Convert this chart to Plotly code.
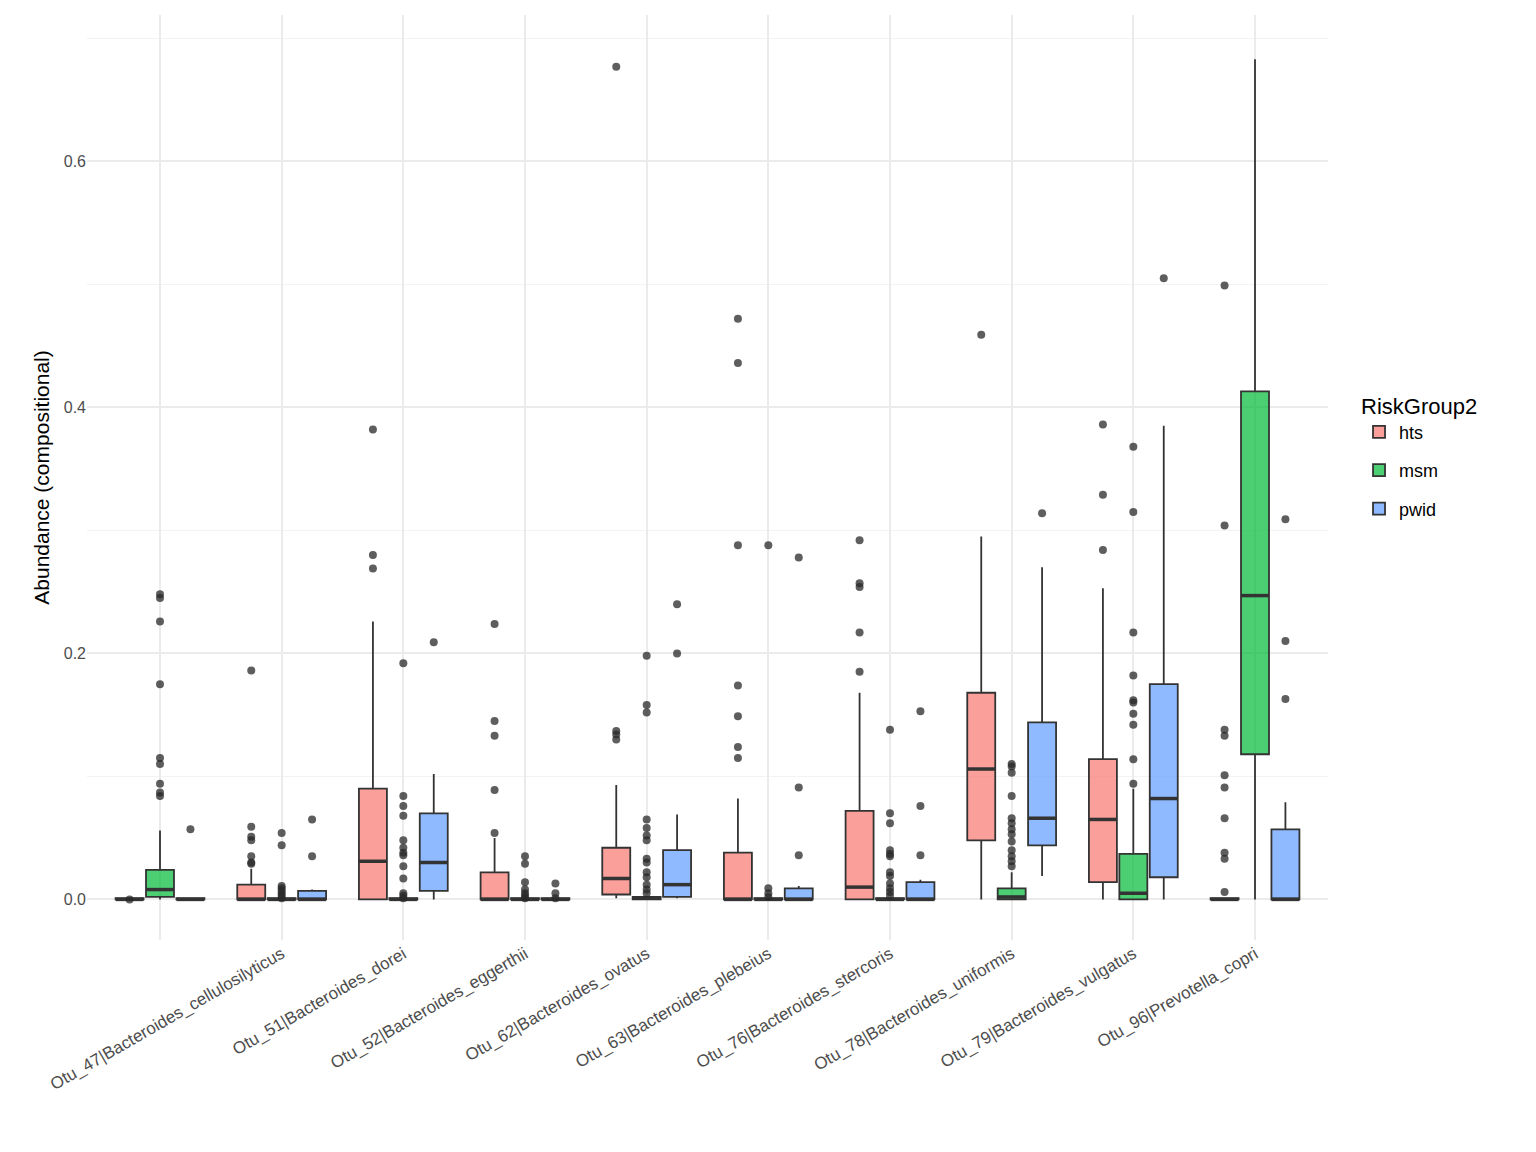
import plotly.graph_objects as go

categories = ["Otu_41|Prevotella_sp_AM42_24", "Otu_47|Bacteroides_cellulosilyticus", "Otu_51|Bacteroides_dorei",
              "Otu_52|Bacteroides_eggerthii", "Otu_62|Bacteroides_ovatus", "Otu_63|Bacteroides_plebeius",
              "Otu_76|Bacteroides_stercoris", "Otu_78|Bacteroides_uniformis", "Otu_79|Bacteroides_vulgatus",
              "Otu_96|Prevotella_copri"]

hts_lo = [0, 0, 0, 0, 0.001, 0, 0, 0, 0, 0]
hts_q1 = [0, 0, 0, 0, 0.004, 0, 0, 0.048, 0.014, 0]
hts_med = [0, 0, 0.031, 0, 0.017, 0, 0.010, 0.106, 0.065, 0]
hts_q3 = [0.001, 0.012, 0.090, 0.022, 0.042, 0.038, 0.072, 0.168, 0.114, 0.001]
hts_hi = [0.001, 0.025, 0.226, 0.050, 0.093, 0.082, 0.168, 0.295, 0.253, 0.001]
hts_out = [[0.0], [0.186, 0.059, 0.051, 0.048, 0.035, 0.030, 0.029], [0.382, 0.280, 0.269],
           [0.224, 0.145, 0.133, 0.089, 0.054], [0.677, 0.137, 0.134, 0.130],
           [0.472, 0.436, 0.288, 0.174, 0.149, 0.124, 0.115], [0.292, 0.257, 0.254, 0.217, 0.185],
           [0.459], [0.386, 0.329, 0.284],
           [0.499, 0.304, 0.138, 0.133, 0.101, 0.091, 0.066, 0.038, 0.033, 0.006]]

msm_lo = [0, 0, 0, 0, 0, 0, 0, 0, 0, 0]
msm_q1 = [0.002, 0, 0, 0, 0, 0, 0, 0, 0, 0.118]
msm_med = [0.008, 0, 0, 0, 0.001, 0, 0, 0.002, 0.005, 0.247]
msm_q3 = [0.024, 0.001, 0.001, 0.001, 0.002, 0.001, 0.001, 0.009, 0.037, 0.413]
msm_hi = [0.056, 0.001, 0.001, 0.001, 0.002, 0.001, 0.001, 0.022, 0.090, 0.683]
msm_out = [[0.248, 0.245, 0.226, 0.175, 0.115, 0.110, 0.094, 0.087, 0.084],
           [0.054, 0.044, 0.011, 0.009, 0.007, 0.005, 0.003, 0.001],
           [0.192, 0.084, 0.076, 0.068, 0.048, 0.042, 0.038, 0.036, 0.027, 0.017, 0.005, 0.003, 0.001],
           [0.035, 0.029, 0.014, 0.008, 0.005, 0.003, 0.001],
           [0.198, 0.158, 0.152, 0.065, 0.058, 0.052, 0.048, 0.033, 0.030, 0.022, 0.018, 0.012, 0.008, 0.005],
           [0.288, 0.009, 0.005, 0.002],
           [0.138, 0.070, 0.062, 0.040, 0.037, 0.035, 0.022, 0.019, 0.013, 0.009, 0.006, 0.003],
           [0.110, 0.108, 0.103, 0.084, 0.066, 0.062, 0.057, 0.053, 0.047, 0.040, 0.035, 0.031, 0.027],
           [0.368, 0.315, 0.217, 0.182, 0.162, 0.160, 0.151, 0.142, 0.114, 0.094], []]

pwid_lo = [0, 0, 0, 0, 0.001, 0, 0, 0.019, 0, 0]
pwid_q1 = [0, 0, 0.007, 0, 0.002, 0, 0, 0.044, 0.018, 0]
pwid_med = [0, 0, 0.030, 0, 0.012, 0, 0, 0.066, 0.082, 0]
pwid_q3 = [0.001, 0.007, 0.070, 0.001, 0.040, 0.009, 0.014, 0.144, 0.175, 0.057]
pwid_hi = [0.001, 0.008, 0.102, 0.001, 0.069, 0.011, 0.016, 0.270, 0.385, 0.079]
pwid_out = [[0.057], [0.065, 0.035], [0.209], [0.013, 0.005, 0.001], [0.240, 0.200],
            [0.278, 0.091, 0.036], [0.153, 0.076, 0.036], [0.314], [0.505], [0.309, 0.210, 0.163]]

groups = [
    ("hts", -0.25, "rgba(248,118,109,0.7)", hts_lo, hts_q1, hts_med, hts_q3, hts_hi, hts_out),
    ("msm", 0.0, "rgba(0,186,56,0.7)", msm_lo, msm_q1, msm_med, msm_q3, msm_hi, msm_out),
    ("pwid", 0.25, "rgba(97,156,255,0.7)", pwid_lo, pwid_q1, pwid_med, pwid_q3, pwid_hi, pwid_out),
]
BW = 0.23

fig = go.Figure()
n = len(categories)
for name, off, col, lo, q1, med, q3, hi, out in groups:
    xs = [i + off for i in range(n)]
    fig.add_trace(go.Box(
        name=name, x=xs, lowerfence=lo, q1=q1, median=med, q3=q3, upperfence=hi,
        width=BW, fillcolor=col, line=dict(color="#333333", width=1.8),
        whiskerwidth=0, boxpoints=False, legendgroup=name, showlegend=True))
for name, off, col, lo, q1, med, q3, hi, out in groups:
    mx, my = [], []
    for i, m in enumerate(med):
        mx += [i + off - BW / 2, i + off + BW / 2, None]
        my += [m, m, None]
    fig.add_trace(go.Scatter(x=mx, y=my, mode="lines", showlegend=False, hoverinfo="skip",
                             line=dict(color="#333333", width=3.5)))
    ox, oy = [], []
    for i, vals in enumerate(out):
        ox += [i + off] * len(vals)
        oy += vals
    fig.add_trace(go.Scatter(x=ox, y=oy, mode="markers", showlegend=False,
                             marker=dict(color="rgba(40,40,40,0.75)", size=8)))

fig.update_layout(
    width=1536, height=1152, plot_bgcolor="white", paper_bgcolor="white",
    margin=dict(l=79, r=216, t=7, b=220),
    font=dict(family="Liberation Sans, Arial", color="#4d4d4d", size=16),
    legend=dict(title=dict(text="RiskGroup2", font=dict(size=22, color="black")),
                x=1.025, y=0.6, yanchor="top", font=dict(size=18, color="black"),
                tracegroupgap=12),
    xaxis=dict(range=[-0.6, 9.6], tickmode="array", tickvals=list(range(n)), ticktext=categories,
               tickangle=-30, showgrid=True, gridcolor="#ebebeb", gridwidth=1.5, zeroline=False,
               automargin=False, tickfont=dict(size=17)),
    yaxis=dict(range=[-0.033, 0.719], dtick=0.2, tickformat=".1f", showgrid=True, gridcolor="#ebebeb",
               gridwidth=1.5, zeroline=False, automargin=False, tickfont=dict(size=16),
               minor=dict(dtick=0.1, showgrid=True, gridcolor="#f3f3f3", gridwidth=1),
               title=dict(text="Abundance (compositional)", font=dict(size=21, color="black"), standoff=8)),
)
fig.write_html("out.html")
